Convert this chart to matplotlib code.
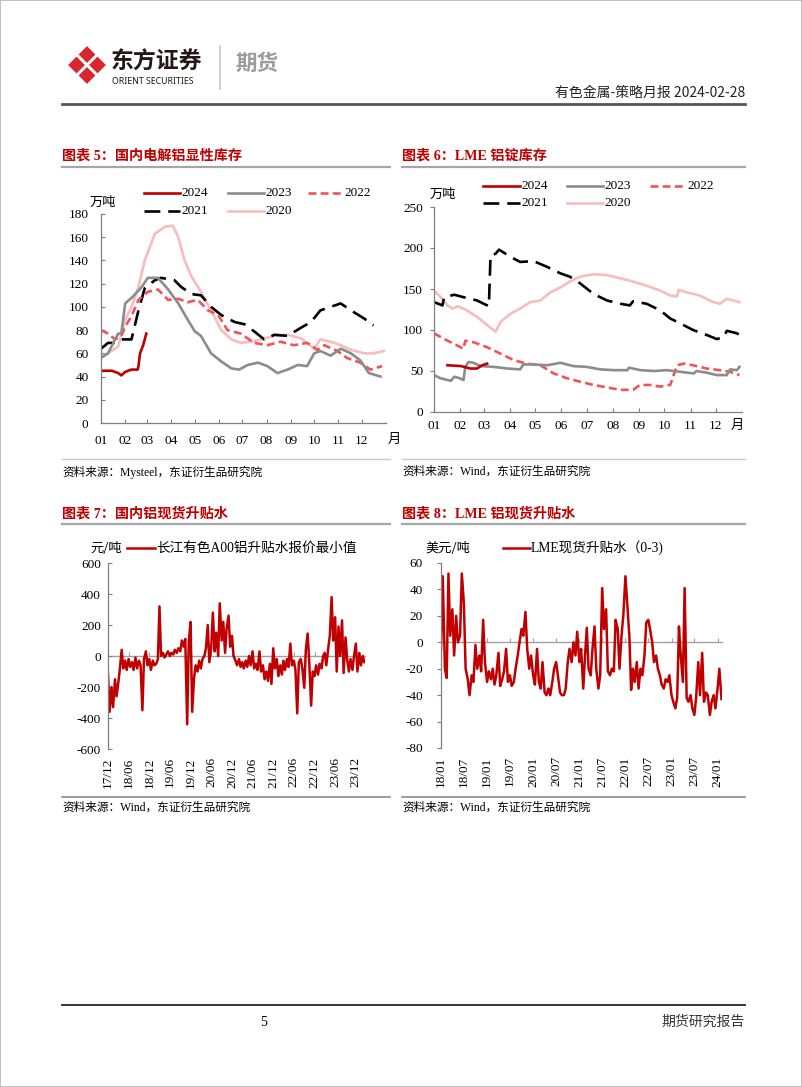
import matplotlib
matplotlib.use('Agg')
import matplotlib.pyplot as plt
import matplotlib.dates as mdates
from matplotlib.lines import Line2D
from matplotlib.patches import Polygon, Rectangle
import numpy as np
import pandas as pd

plt.rcParams['axes.unicode_minus'] = False

# ---------------- data ----------------
MONTH_START = [0, 31, 59, 90, 120, 151, 181, 212, 243, 273, 304, 334]
MONTH_LABELS = ['01', '02', '03', '04', '05', '06', '07', '08', '09', '10', '11', '12']

# Chart 5: domestic aluminium visible inventory (10k t), x = day of year
c5_d2024 = [0, 14, 22, 26, 31, 39, 47, 48, 50, 54, 58]
c5_v2024 = [45, 45, 43, 41, 44, 46, 46, 49, 60, 67, 77]
c5_d2023 = [0, 9, 18, 22, 26, 31, 41, 52, 60, 73, 86, 99, 111, 120, 128, 141, 154, 167, 177, 188,
            201, 213, 226, 239, 252, 264, 273, 281, 294, 307, 320, 332, 343, 358]
c5_v2023 = [56, 60, 72, 77, 77, 103, 109, 117, 125, 125, 115, 103, 89, 79, 75, 60, 53, 47, 46, 50,
            52, 49, 43, 46, 50, 49, 60, 62, 58, 64, 60, 54, 43, 40]
c5_d2022 = [0, 9, 18, 26, 31, 39, 48, 60, 73, 86, 99, 111, 124, 137, 150, 162, 179, 196, 213, 230,
            247, 264, 277, 286, 303, 315, 332, 345, 360]
c5_v2022 = [80, 77, 72, 75, 83, 92, 106, 113, 115, 106, 107, 104, 106, 97, 93, 80, 77, 69, 67, 70,
            67, 69, 63, 67, 62, 56, 52, 46, 49]
c5_d2021 = [0, 9, 18, 26, 39, 48, 56, 69, 77, 94, 103, 116, 128, 141, 154, 171, 184, 196, 209, 222,
            239, 256, 269, 281, 294, 307, 320, 337, 349]
c5_v2021 = [64, 69, 69, 72, 72, 97, 116, 123, 125, 123, 117, 111, 110, 100, 93, 87, 85, 79, 72, 76,
            75, 82, 87, 97, 100, 103, 97, 90, 84]
c5_d2020 = [0, 9, 22, 31, 39, 48, 56, 69, 82, 92, 99, 107, 116, 128, 141, 154, 167, 179, 192, 205,
            222, 239, 256, 273, 281, 294, 307, 320, 337, 349, 362]
c5_v2020 = [57, 60, 66, 89, 100, 117, 140, 163, 169, 170, 160, 140, 126, 113, 97, 80, 72, 69, 70, 72,
            75, 76, 73, 64, 72, 70, 67, 63, 60, 60, 62]

# Chart 6: LME aluminium stocks (10k t)
c6_d2024 = [16, 32, 43, 51, 57, 63]
c6_v2024 = [57, 56, 53, 53, 57, 59]
c6_d2023 = [0, 8, 20, 24, 31, 35, 37, 41, 47, 55, 71, 87, 102, 106, 118, 134, 150, 165, 181, 197,
            213, 229, 231, 245, 261, 276, 292, 308, 311, 323, 335, 347, 351, 359, 362]
c6_v2023 = [45, 41, 38, 43, 41, 39, 55, 61, 60, 56, 55, 53, 52, 58, 58, 57, 60, 56, 55, 52,
            51, 51, 54, 51, 50, 51, 49, 47, 50, 48, 45, 45, 52, 51, 55]
c6_d2022 = [0, 12, 24, 35, 37, 47, 63, 79, 95, 110, 126, 142, 158, 173, 189, 205, 221, 236, 244, 256,
            268, 280, 288, 296, 307, 323, 339, 351, 362]
c6_v2022 = [96, 89, 83, 77, 87, 85, 79, 71, 63, 59, 57, 47, 41, 37, 33, 30, 27, 27, 33, 33,
            31, 33, 57, 59, 57, 53, 51, 49, 45]
c6_d2021 = [0, 10, 12, 24, 35, 51, 59, 65, 67, 73, 77, 91, 102, 118, 134, 150, 161, 173, 189, 205,
            221, 232, 236, 252, 268, 280, 292, 307, 323, 335, 343, 347, 359, 362]
c6_v2021 = [134, 130, 140, 143, 140, 136, 132, 129, 191, 193, 198, 189, 183, 184, 177, 169, 165, 157, 144, 136,
            132, 130, 135, 132, 124, 114, 108, 100, 94, 89, 91, 99, 96, 94]
c6_d2020 = [0, 8, 16, 22, 28, 39, 51, 63, 73, 79, 91, 102, 114, 126, 138, 150, 161, 173, 189, 205,
            221, 236, 252, 268, 280, 288, 290, 299, 315, 331, 339, 347, 362]
c6_v2020 = [148, 140, 130, 126, 129, 124, 116, 106, 98, 110, 120, 126, 134, 136, 146, 152, 159, 165, 168, 167,
            163, 159, 154, 148, 142, 141, 149, 146, 142, 134, 132, 138, 134]

# Chart 7: Changjiang A00 spot premium (yuan/t), semi-monthly from 2017-12-01
c7_start = '2017-12-01'
c7_values = [
    -120, -360, -200, -330, -150, -260, -180, -90, 40, -80, -30, -90, -20, -70, -40, -90,
    -10, -80, -30, -60, -350, -20, 30, -60, -20, -90, -30, -60, -50, -20, 320, 0,
    20, -10, 10, 30, 0, 20, 10, 40, 20, 50, 30, 100, 60, 110, -440, 90,
    220, -360, -140, -60, -100, -30, -80, -20, 0, 50, 200, -40, 60, 280, 30, 150,
    0, 340, 100, 220, 20, 180, 260, 60, 130, 0, -30, -60, -20, -70, -40, -80,
    -30, -70, 0, -60, 30, -80, -50, -90, 30, -100, -60, -150, -100, -160, -50, -180,
    50, -80, -20, -130, -60, -120, -30, -90, -20, -70, 80, -60, -30, -90, -370, -40,
    -20, -80, -205, 40, 145, -40, -320, -100, -130, -60, -120, -50, -80, 0, 20, -60,
    50, 130, 380, 100, 250, -100, 190, 0, 230, -110, 120, -20, -100, -20, -90, 0,
    80, -100, 20, -60, 0, -40]
c7_ticks = ['2017-12-01', '2018-06-01', '2018-12-01', '2019-06-01', '2019-12-01', '2020-06-01',
            '2020-12-01', '2021-06-01', '2021-12-01', '2022-06-01', '2022-12-01', '2023-06-01',
            '2023-12-01']
c7_ticklabels = ['17/12', '18/06', '18/12', '19/06', '19/12', '20/06', '20/12', '21/06',
                 '21/12', '22/06', '22/12', '23/06', '23/12']

# Chart 8: LME cash-3M spread (USD/t), semi-monthly from 2018-01-01
c8_start = '2018-01-01'
c8_values = [
    -5, 50, -20, -27, 52, 5, 25, -10, 20, 0, 5, 52, 30, -20, -28, -40,
    -25, -30, -2, -20, -10, -22, 17, -15, -30, -22, -28, -20, -32, -25, -8, -33,
    -28, -22, -5, -30, -25, -33, -30, -20, -10, 0, 10, 5, 23, -5, -20, -10,
    -25, -32, -5, -30, -35, -15, -38, -40, -35, -40, -30, -20, -15, -25, -38, -40,
    -40, -35, -15, -5, -15, 0, -10, 8, -15, -5, -35, -10, 11, -20, -25, -5,
    12, -20, -35, -25, 41, 10, 25, -22, -25, -20, -22, 17, 10, -20, 5, 20,
    50, 30, 5, -36, -20, -30, -15, -35, -20, -25, -10, 15, 17, 10, 0, -15,
    -10, -20, -25, -32, -35, -28, -30, -25, -40, -45, -50, -42, 12, -10, -30, 41,
    -42, -45, -40, -50, -55, -42, -15, -40, -8, -45, -38, -40, -55, -45, -40, -50,
    -35, -20, -43]
c8_ticks = ['2018-01-01', '2018-07-01', '2019-01-01', '2019-07-01', '2020-01-01', '2020-07-01',
            '2021-01-01', '2021-07-01', '2022-01-01', '2022-07-01', '2023-01-01', '2023-07-01',
            '2024-01-01']
c8_ticklabels = ['18/01', '18/07', '19/01', '19/07', '20/01', '20/07', '21/01', '21/07',
                 '22/01', '22/07', '23/01', '23/07', '24/01']

# ---------------- style ----------------
W, H = 802, 1087
RED = '#C00000'
C2022 = '#F0545A'
C2020 = '#F8BCBC'
GRAY = '#8C8C8C'
SER = ['Liberation Serif', 'Noto Sans CJK SC']
CJK = ['Noto Sans CJK SC', 'DejaVu Sans']
SPINE = '#7F7F7F'
TICK_FS = 9.5

fig = plt.figure(figsize=(W / 100, H / 100), dpi=100)


def FX(x):
    return x / W


def FY(y):
    return 1 - y / H


def hline(x0, x1, y, color, lw):
    fig.add_artist(Line2D([FX(x0), FX(x1)], [FY(y), FY(y)], transform=fig.transFigure,
                          color=color, lw=lw))


def txt(x, y, s, size, color='black', ha='left', va='center', family=SER, weight='normal'):
    fig.text(FX(x), FY(y), s, fontsize=size, color=color, ha=ha, va=va, family=family,
             weight=weight)


def make_ax(l, r, t, b):
    return fig.add_axes([FX(l), FY(b), (r - l) / W, (b - t) / H])


def leg(x0, x1, y, label, line, size=9.5):
    l = Line2D([FX(x0), FX(x1)], [FY(y), FY(y)], transform=fig.transFigure,
               color=line.get_color(), lw=line.get_linewidth(), linestyle=line.get_linestyle())
    if line.get_linestyle() not in ('-', 'solid'):
        l.set_dashes(line._unscaled_dash_pattern[1])
    fig.add_artist(l)
    txt(x1 + 1, y, label, size)


def style_ax(ax):
    for s in ['top', 'right']:
        ax.spines[s].set_visible(False)
    for s in ['left', 'bottom']:
        ax.spines[s].set_color(SPINE)
        ax.spines[s].set_linewidth(0.9)
    for lab in ax.get_xticklabels() + ax.get_yticklabels():
        lab.set_family(SER)
        lab.set_fontsize(TICK_FS)


# ---------------- page frame & header ----------------
fig.add_artist(Rectangle((0, 0), 1, 1, transform=fig.transFigure, fill=False,
                         edgecolor='#B5B5B5', lw=1.2))

# logo: four red diamonds
for cx, cy in [(87, 54.5), (97.5, 65), (87, 75.5), (76.5, 65)]:
    h = 8.4
    pts = [(FX(cx), FY(cy - h)), (FX(cx + h), FY(cy)), (FX(cx), FY(cy + h)), (FX(cx - h), FY(cy))]
    fig.add_artist(Polygon(pts, closed=True, transform=fig.transFigure, facecolor='#D8262E',
                           edgecolor='none'))
txt(111, 62, '东方证券', 16.5, color='#231815', family=CJK, weight='bold')
txt(112, 81, 'ORIENT SECURITIES', 6.3, color='#231815', family=['Noto Sans'], weight='bold')
fig.add_artist(Line2D([FX(220), FX(220)], [FY(46), FY(89)], transform=fig.transFigure,
                      color='#CFC6B0', lw=1.2))
txt(236, 63, '期货', 15.5, color='#9B9B9B', family=CJK, weight='bold')
txt(745, 93, '有色金属-策略月报 2024-02-28', 10, color='#222222', ha='right', family=CJK)
hline(62, 745, 104, '#555555', 2.0)

# ---------------- titles / rules / sources ----------------
txt(62, 156, '图表 5：国内电解铝显性库存', 10.2, color=RED, weight='bold')
txt(402, 156, '图表 6：LME 铝锭库存', 10.2, color=RED, weight='bold')
hline(62, 390, 167, '#A6A6A6', 1.6)
hline(402, 745, 167, '#A6A6A6', 1.6)
hline(62, 390, 459, '#C8C8C8', 1.0)
hline(402, 745, 459, '#C8C8C8', 1.0)
txt(62, 472, '资料来源：Mysteel，东证衍生品研究院', 8.4)
txt(402, 472, '资料来源：Wind，东证衍生品研究院', 8.4)

txt(62, 514, '图表 7：国内铝现货升贴水', 10.2, color=RED, weight='bold')
txt(402, 514, '图表 8：LME 铝现货升贴水', 10.2, color=RED, weight='bold')
hline(62, 390, 524, '#A6A6A6', 1.6)
hline(402, 745, 524, '#A6A6A6', 1.6)
hline(62, 390, 797, '#8A8A8A', 1.2)
hline(402, 745, 797, '#8A8A8A', 1.2)
txt(62, 808, '资料来源：Wind，东证衍生品研究院', 8.4)
txt(402, 808, '资料来源：Wind，东证衍生品研究院', 8.4)

# footer
hline(62, 745, 1005, '#222222', 1.3)
txt(260, 1022, '5', 10)
txt(745, 1022, '期货研究报告', 10, color='#333333', ha='right', family=CJK)

# ---------------- chart 5 ----------------
ax5 = make_ax(101, 386, 214, 423)
l20 = ax5.plot(c5_d2020, c5_v2020, color=C2020, lw=1.9)[0]
l21 = ax5.plot(c5_d2021, c5_v2021, color='black', lw=1.9, dashes=(6, 3))[0]
l22 = ax5.plot(c5_d2022, c5_v2022, color=C2022, lw=1.9, dashes=(3, 1.6))[0]
l23 = ax5.plot(c5_d2023, c5_v2023, color=GRAY, lw=1.9)[0]
l24 = ax5.plot(c5_d2024, c5_v2024, color=RED, lw=1.9)[0]
ax5.set_xlim(0, 365)
ax5.set_ylim(0, 180)
ax5.set_yticks(range(0, 181, 20))
ax5.set_xticks(MONTH_START, MONTH_LABELS)
ax5.tick_params(axis='x', direction='in', length=3, pad=9, color=SPINE)
ax5.tick_params(axis='y', direction='in', length=3, pad=9, color=SPINE)
style_ax(ax5)
txt(90, 202, '万吨', 9.5, family=CJK)
txt(388, 439, '月', 9.5, family=CJK)
leg(144, 180, 193, '2024', l24)
leg(228, 264, 193, '2023', l23)
leg(308, 343, 193, '2022', l22)
leg(144, 180, 211, '2021', l21)
leg(228, 264, 211, '2020', l20)

# ---------------- chart 6 ----------------
ax6 = make_ax(434, 742, 207, 412)
m20 = ax6.plot(c6_d2020, c6_v2020, color=C2020, lw=1.9)[0]
m21 = ax6.plot(c6_d2021, c6_v2021, color='black', lw=1.9, dashes=(6, 3))[0]
m22 = ax6.plot(c6_d2022, c6_v2022, color=C2022, lw=1.9, dashes=(3, 1.6))[0]
m23 = ax6.plot(c6_d2023, c6_v2023, color=GRAY, lw=1.9)[0]
m24 = ax6.plot(c6_d2024, c6_v2024, color=RED, lw=1.9)[0]
ax6.set_xlim(0, 365)
ax6.set_ylim(0, 250)
ax6.set_yticks(range(0, 251, 50))
ax6.set_xticks(MONTH_START, MONTH_LABELS)
ax6.tick_params(axis='x', direction='in', length=3, pad=6, color=SPINE)
ax6.tick_params(axis='y', direction='out', length=3, pad=5, color=SPINE)
style_ax(ax6)
txt(430, 194, '万吨', 9.5, family=CJK)
txt(731, 425, '月', 9.5, family=CJK)
leg(483, 520, 186, '2024', m24)
leg(567, 603, 186, '2023', m23)
leg(650, 686, 186, '2022', m22)
leg(483, 520, 203, '2021', m21)
leg(567, 603, 203, '2020', m20)


# ---------------- charts 7 & 8 ----------------
def spread_chart(ax, start, values, ticks, ticklabels, xmin, xmax, ylim, ystep):
    dates = pd.date_range(start, periods=len(values), freq='SMS')
    x = mdates.date2num(dates.to_pydatetime())
    line = ax.plot(x, values, color=RED, lw=1.8)[0]
    tk = mdates.date2num(pd.to_datetime(ticks).to_pydatetime())
    ax.set_xlim(mdates.date2num(pd.Timestamp(xmin).to_pydatetime()),
                mdates.date2num(pd.Timestamp(xmax).to_pydatetime()))
    ax.set_ylim(*ylim)
    ax.set_yticks(np.arange(ylim[0], ylim[1] + 1, ystep))
    ax.spines['bottom'].set_position(('data', 0))
    ax.set_xticks(tk)
    ax.tick_params(axis='x', direction='in', length=3, labelbottom=False, color='#A0A0A0')
    style_ax(ax)
    ax.spines['bottom'].set_color('#A0A0A0')
    ax.spines['bottom'].set_linewidth(1.0)
    ax.spines['bottom'].set_zorder(0.5)
    sec = ax.secondary_xaxis('bottom')
    sec.set_xticks(tk, ticklabels, rotation=90)
    sec.spines['bottom'].set_visible(False)
    sec.tick_params(length=0, pad=6)
    for lab in sec.get_xticklabels():
        lab.set_family(SER)
        lab.set_fontsize(TICK_FS)
    return line


ax7 = make_ax(108, 365, 563, 749)
n7 = spread_chart(ax7, c7_start, c7_values, c7_ticks, c7_ticklabels,
                  '2017-12-01', '2024-02-20', (-600, 600), 200)
ax7.tick_params(axis='y', direction='in', length=3, pad=5, color=SPINE)
txt(90, 548, '元/吨', 9.5, family=CJK)
leg(127, 155, 548, '长江有色A00铝升贴水报价最小值', n7, size=9.8)

ax8 = make_ax(441, 722, 563, 748)
n8 = spread_chart(ax8, c8_start, c8_values, c8_ticks, c8_ticklabels,
                  '2018-01-01', '2024-02-05', (-80, 60), 20)
ax8.tick_params(axis='y', direction='out', length=3, pad=10, color=SPINE)
txt(425, 548, '美元/吨', 9.5, family=CJK)
leg(503, 530, 548, 'LME现货升贴水（0-3)', n8, size=9.8)

fig.savefig('out.png', dpi=100)
